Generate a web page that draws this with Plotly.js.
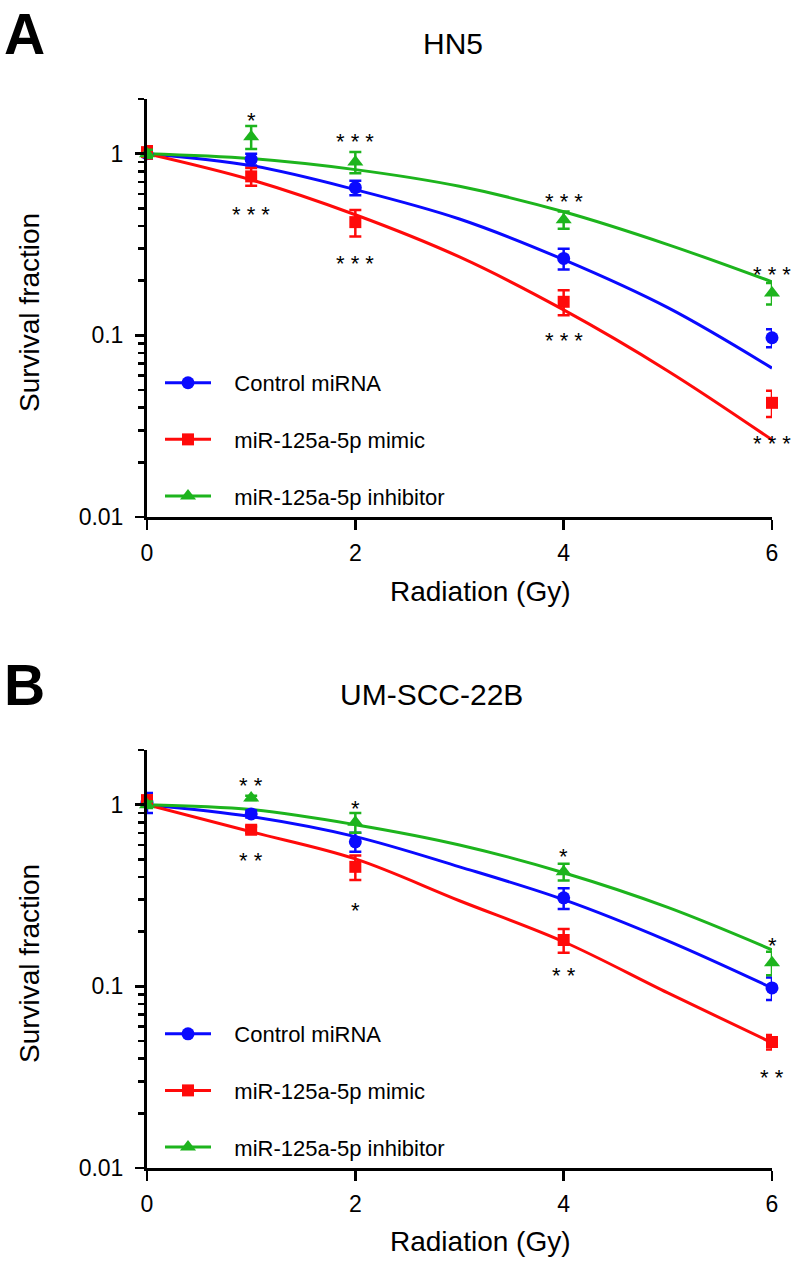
<!DOCTYPE html>
<html>
<head>
<meta charset="utf-8">
<script src="https://cdn.plot.ly/plotly-3.0.1.min.js"></script>
<style>html,body{margin:0;padding:0;background:#fff;}#chart{width:795px;height:1261px;}</style>
</head>
<body>
<div id="chart"></div>
<script>
// ---------- data ----------
const doses = [0, 1, 2, 4, 6];
const fitDoses = [0, 1, 2, 3, 4, 5, 6];
const seriesNames = ['Control miRNA', 'miR-125a-5p mimic', 'miR-125a-5p inhibitor'];

// Panel A: HN5
const hn5Control      = [1.0, 0.93, 0.65, 0.265, 0.097];
const hn5ControlErr   = [0.06, 0.07, 0.06, 0.035, 0.011];
const hn5Mimic        = [1.02, 0.75, 0.42, 0.153, 0.0425];
const hn5MimicErr     = [0.08, 0.085, 0.07, 0.024, 0.007];
const hn5Inhibitor    = [1.0, 1.24, 0.90, 0.433, 0.171];
const hn5InhibitorErr = [0.05, 0.18, 0.12, 0.047, 0.023];
const hn5ControlFit   = [1, 0.86, 0.634, 0.437, 0.261, 0.142, 0.066];
const hn5MimicFit     = [1, 0.718, 0.461, 0.27, 0.138, 0.0637, 0.0266];
const hn5InhibitorFit = [1, 0.94, 0.817, 0.661, 0.479, 0.316, 0.197];

// Panel B: UM-SCC-22B
const umControl      = [1.03, 0.89, 0.625, 0.307, 0.098];
const umControlErr   = [0.13, 0.04, 0.075, 0.04, 0.014];
const umMimic        = [1.06, 0.728, 0.455, 0.18, 0.0494];
const umMimicErr     = [0.06, 0.03, 0.07, 0.027, 0.0045];
const umInhibitor    = [1.0, 1.09, 0.80, 0.428, 0.135];
const umInhibitorErr = [0.04, 0.03, 0.10, 0.045, 0.02];
const umControlFit   = [1, 0.86, 0.667, 0.455, 0.30, 0.178, 0.098];
const umMimicFit     = [1, 0.71, 0.503, 0.296, 0.176, 0.092, 0.0489];
const umInhibitorFit = [1, 0.94, 0.776, 0.60, 0.422, 0.272, 0.159];

// significance marks
const hn5StarX    = [1, 1, 2, 2, 4, 4, 6, 6];
const hn5StarY    = [1.6, 0.485, 1.22, 0.26, 0.573, 0.098, 0.227, 0.0266];
const hn5StarText = ['*', '* * *', '* * *', '* * *', '* * *', '* * *', '* * *', '* * *'];
const umStarX     = [1, 1, 2, 2, 4, 4, 6, 6];
const umStarY     = [1.34, 0.517, 1.0, 0.274, 0.544, 0.12, 0.176, 0.033];
const umStarText  = ['* *', '* *', '*', '*', '*', '* *', '*', '* *'];

const yTickVals = [0.01, 0.1, 1];
const yTickText = ['0.01', '0.1', '1'];
const xTickVals = [0, 2, 4, 6];

// ---------- style ----------
const FONT = 'Liberation Sans, Arial, Helvetica, sans-serif';
const colors = ['#0a0aff', '#ff0a0a', '#1db41d'];
const symbols = ['circle', 'square', 'triangle-up'];
const msizes = [13, 12, 14];
const NB = '\u00a0\u00a0\u00a0';

function panelTraces(xa, ya, vals, errs, fits, legendId, tag) {
  const out = [];
  for (let i = 0; i < 3; i++) {
    out.push({
      type: 'scatter', mode: 'lines', x: fitDoses, y: fits[i], xaxis: xa, yaxis: ya,
      line: {color: colors[i], width: 3, shape: 'spline'}, showlegend: false,
      cliponaxis: false, hoverinfo: 'skip'
    });
  }
  for (let i = 0; i < 3; i++) {
    out.push({
      type: 'scatter', mode: 'markers', x: doses, y: vals[i], xaxis: xa, yaxis: ya,
      marker: {color: colors[i], symbol: symbols[i], size: msizes[i]},
      error_y: {type: 'data', array: errs[i], visible: true, color: colors[i], thickness: 2.5, width: 6},
      showlegend: false, cliponaxis: false
    });
  }
  for (let i = 0; i < 3; i++) {
    out.push({
      type: 'scatter', mode: 'lines+markers', x: [null], y: [null], xaxis: xa, yaxis: ya,
      name: NB + seriesNames[i], legend: legendId, legendgroup: tag + i,
      line: {color: colors[i], width: 3},
      marker: {color: colors[i], symbol: symbols[i], size: msizes[i]},
      showlegend: true
    });
  }
  return out;
}

const data = [].concat(
  panelTraces('x', 'y', [hn5Control, hn5Mimic, hn5Inhibitor],
              [hn5ControlErr, hn5MimicErr, hn5InhibitorErr],
              [hn5ControlFit, hn5MimicFit, hn5InhibitorFit], 'legend', 'a'),
  panelTraces('x2', 'y2', [umControl, umMimic, umInhibitor],
              [umControlErr, umMimicErr, umInhibitorErr],
              [umControlFit, umMimicFit, umInhibitorFit], 'legend2', 'b')
);
// empty carriers so the long major-tick overlay axes get drawn
data.push({type: 'scatter', mode: 'markers', x: [null], y: [null], xaxis: 'x', yaxis: 'y3', showlegend: false});
data.push({type: 'scatter', mode: 'markers', x: [null], y: [null], xaxis: 'x2', yaxis: 'y4', showlegend: false});

// every tick position on the log axis (majors + 2..9 minors + 2 at the top)
const allTickVals = [];
const allTickText = [];
[0.01, 0.1, 1].forEach(d => {
  const top = d === 1 ? 2 : 9;
  for (let m = 1; m <= top; m++) {
    allTickVals.push(d * m);
    allTickText.push(m === 1 ? yTickText[yTickVals.indexOf(d)] : '');
  }
});

function xAxis(anchor) {
  return {
    anchor: anchor, domain: [0, 1], range: [0, 6], tickmode: 'array', tickvals: xTickVals,
    ticks: 'outside', ticklen: 10, tickwidth: 2.5, tickcolor: '#000',
    showline: true, linewidth: 3, linecolor: '#000', showgrid: false, zeroline: false,
    tickfont: {family: FONT, size: 23, color: '#000'}, ticklabelstandoff: 3, fixedrange: true
  };
}
function yAxis(anchor, domain) {
  return {
    anchor: anchor, domain: domain, type: 'log', range: [-2, Math.log10(2)],
    tickmode: 'array', tickvals: allTickVals, ticktext: allTickText,
    ticks: 'outside', ticklen: 6, tickwidth: 2.5, tickcolor: '#000',
    showline: true, linewidth: 3, linecolor: '#000', showgrid: false, zeroline: false,
    tickfont: {family: FONT, size: 23, color: '#000'}, ticklabelstandoff: 10, fixedrange: true
  };
}
function yMajor(overlay, anchor) {
  return {
    overlaying: overlay, anchor: anchor, side: 'left', type: 'log', range: [-2, Math.log10(2)],
    tickmode: 'array', tickvals: yTickVals, ticktext: yTickVals.map(() => ''),
    showticklabels: false, ticks: 'outside', ticklen: 11, tickwidth: 2.5, tickcolor: '#000',
    gridcolor: 'rgba(255,255,255,0)'
  };
}

const annotations = [];
function txt(text, x, y, size, opts) {
  annotations.push(Object.assign({
    text: text, x: x, y: y, xref: 'paper', yref: 'paper', showarrow: false,
    xanchor: 'center', yanchor: 'middle', font: {family: FONT, size: size, color: '#000'}
  }, opts || {}));
}
txt('<b>A</b>', -0.1968, 1.0608, 57);
txt('<b>B</b>', -0.1952, 0.4518, 57);
txt('HN5', 0.4896, 1.0515, 30);
txt('UM-SCC-22B', 0.4544, 0.4425, 30);
txt('Radiation (Gy)', 0.5328, 0.5397, 28);
txt('Radiation (Gy)', 0.5328, -0.0692, 28);
txt('Survival fraction', -0.1888, 0.7998, 28, {textangle: -90});
txt('Survival fraction', -0.1888, 0.1908, 28, {textangle: -90});

function stars(xs, ys, ts, xr, yr) {
  for (let i = 0; i < xs.length; i++) {
    annotations.push({
      text: ts[i], x: xs[i], y: Math.log10(ys[i]), xref: xr, yref: yr, showarrow: false,
      xanchor: 'center', yanchor: 'middle', yshift: -4,
      font: {family: FONT, size: 22, color: '#000'}
    });
  }
}
stars(hn5StarX, hn5StarY, hn5StarText, 'x', 'y');
stars(umStarX, umStarY, umStarText, 'x2', 'y2');

const legendBase = {
  xanchor: 'left', yanchor: 'top', bgcolor: 'rgba(0,0,0,0)', borderwidth: 0,
  font: {family: FONT, size: 22, color: '#000'}, tracegroupgap: 25, itemwidth: 46,
  traceorder: 'grouped'
};

const layout = {
  width: 795, height: 1261,
  margin: {l: 147, r: 23, t: 99, b: 93},
  font: {family: FONT, color: '#000'},
  showlegend: true,
  xaxis: xAxis('y'), yaxis: yAxis('x', [0.6090, 1]),
  xaxis2: xAxis('y2'), yaxis2: yAxis('x2', [0, 0.3910]),
  yaxis3: yMajor('y', 'x'), yaxis4: yMajor('y2', 'x2'),
  legend: Object.assign({x: (160 - 147) / 625, y: 0.754}, legendBase),
  legend2: Object.assign({x: (160 - 147) / 625, y: 0.145}, legendBase),
  annotations: annotations
};

Plotly.newPlot('chart', data, layout, {staticPlot: true});
</script>
</body>
</html>
